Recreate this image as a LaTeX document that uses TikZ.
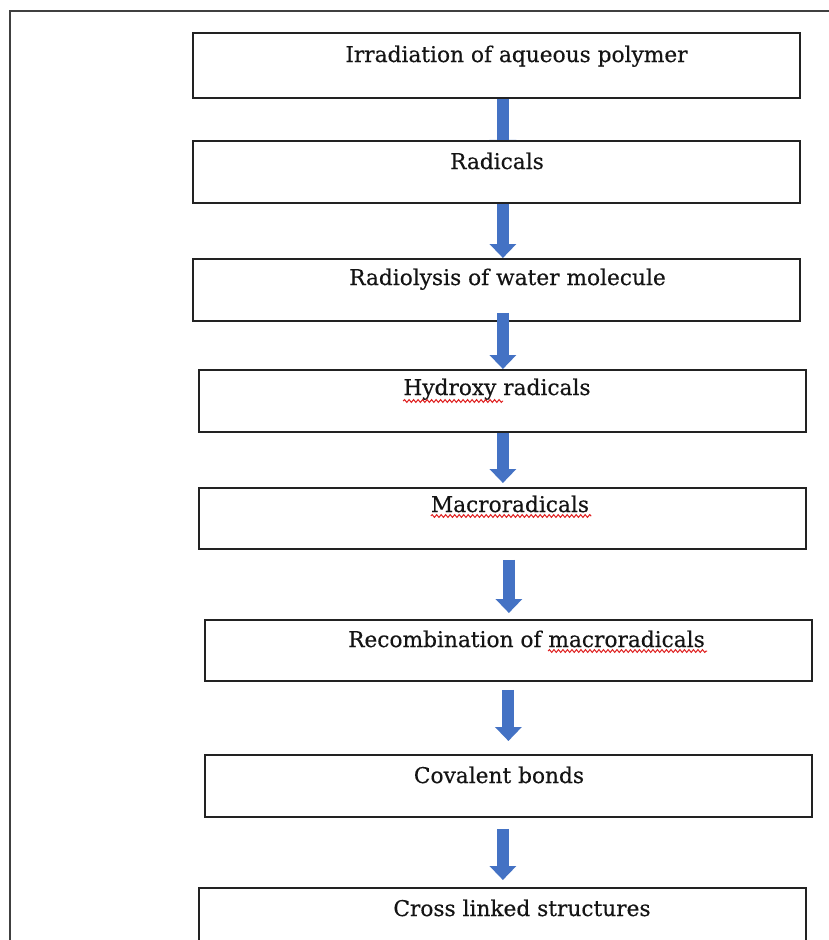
\documentclass[tikz,border=0pt]{standalone}
\usepackage{fontspec}
\setmainfont{DejaVu Serif}
\newfontfamily\lblfont{DejaVu Serif}[FakeBold=0.4]
\usetikzlibrary{arrows.meta,calc,decorations.pathmorphing}
\definecolor{arrowblue}{HTML}{4472C4}
\definecolor{boxline}{HTML}{222222}
\definecolor{frameline}{HTML}{404040}
\definecolor{squigred}{HTML}{E02020}
\begin{document}
\begin{tikzpicture}[x=1pt,y=-1pt,
  stepbox/.style={draw=boxline, line width=1.8pt, fill=white, minimum width=607pt, inner sep=0pt, anchor=north west},
  lbl/.style={font=\lblfont\fontsize{21.7}{26}\selectfont, inner sep=0pt, anchor=base, text=black!92},
  flow/.style={arrowblue, line width=12pt, -{Triangle[width=26pt,length=14pt]}},
  squig/.style={squigred, line width=1pt, decorate, decoration={snake, amplitude=1.4pt, segment length=4.5pt}}]
\useasboundingbox (0,0) rectangle (829,940);
\clip (0,0) rectangle (829,940);
\fill[white] (0,0) rectangle (829,940);
% page frame
\draw[frameline, line width=1.1pt] (10,945) -- (10,11) -- (835,11);
% boxes
\node[stepbox, minimum height=65pt] (b1) at (192,32) {};
\draw[flow] ($(b1.south)+(6.5,0)$) -- ($(b1.south)+(6.5,55)$);
\node[stepbox, minimum height=62pt] (b2) at (192,140) {};
\node[stepbox, minimum height=62pt] (b3) at (192,258) {};
\node[stepbox, minimum height=62pt] (b4) at (198,369) {};
\node[stepbox, minimum height=61pt] (b5) at (198,487) {};
\node[stepbox, minimum height=61pt] (b6) at (204,619) {};
\node[stepbox, minimum height=62pt] (b7) at (204,754) {};
\node[stepbox, minimum height=80pt] (b8) at (198,887) {};
% arrows
\draw[flow] ($(b2.south)+(6.5,0)$) -- ($(b3.north)+(6.5,0)$);
\draw[flow] ($(b3.south)+(6.5,-9)$) -- ($(b4.north)+(0.5,0)$);
\draw[flow] ($(b4.south)+(0.5,0)$) -- ($(b5.north)+(0.5,-4)$);
\draw[flow] ($(b5.south)+(6.5,10)$) -- ($(b6.north)+(0.5,-6)$);
\draw[flow] ($(b6.south)+(0,8)$) -- ($(b7.north)+(0,-13)$);
\draw[flow] ($(b7.south)+(-5.5,11)$) -- ($(b8.north)+(0.5,-7)$);
% texts
\node[lbl] (t1) at (516.5,62) {Irradiation of aqueous polymer};
\node[lbl] (t2) at (497,169) {Radicals};
\node[lbl] (t3) at (507.5,285) {Radiolysis of water molecule};
\node[lbl] (t4) at (497,395) {Hydroxy radicals};
\node[lbl] (t5) at (510,512) {Macroradicals};
\node[lbl] (t6) at (526.5,647) {Recombination of macroradicals};
\node[lbl] (t7) at (499,783) {Covalent bonds};
\node[lbl] (t8) at (522,916) {Cross linked structures};
% spell-check squiggles
\draw[squig] ($(t4.base west)+(0,6)$) -- ($(t4.base west)+(100,6)$);
\draw[squig] ($(t5.base west)+(0,4)$) -- ($(t5.base east)+(2,4)$);
\draw[squig] ($(t6.base east)+(-157,4)$) -- ($(t6.base east)+(2,4)$);
\end{tikzpicture}
\end{document}
